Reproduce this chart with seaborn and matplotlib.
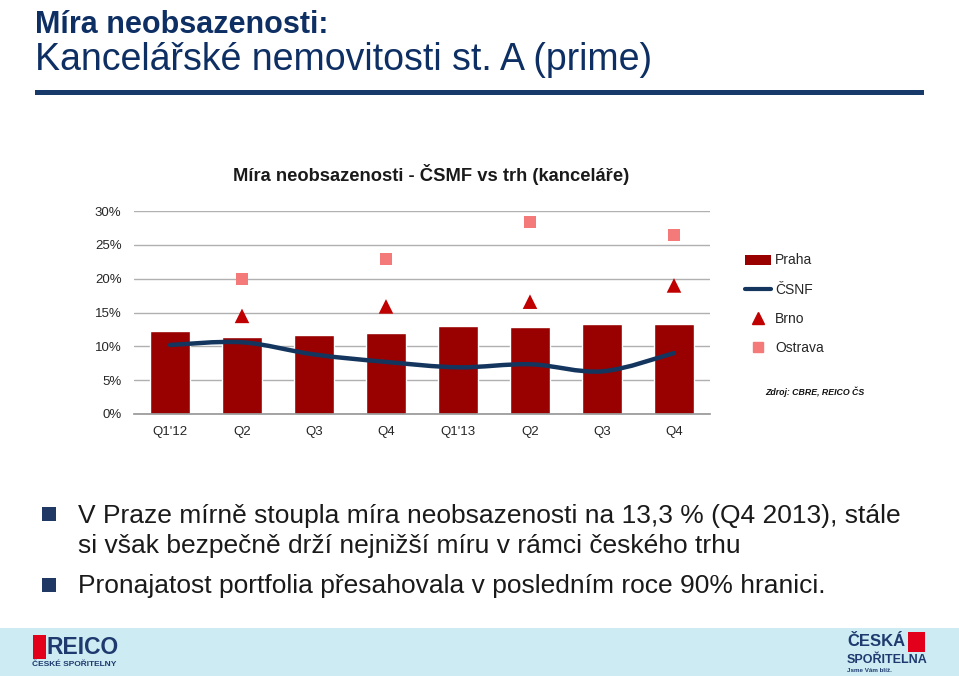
import numpy as np
import pandas as pd
import matplotlib
matplotlib.use("Agg")
import matplotlib.pyplot as plt
import seaborn as sns
from matplotlib.path import Path
from matplotlib.patches import PathPatch, Rectangle, Patch
from matplotlib.lines import Line2D

categories = ["Q1'12", "Q2", "Q3", "Q4", "Q1'13", "Q2", "Q3", "Q4"]
praha = [12.2, 11.45, 11.7, 11.9, 13.0, 12.8, 13.3, 13.3]
csnf = [10.2, 10.6, 8.8, 7.7, 6.9, 7.35, 6.3, 9.0]
brno = [np.nan, 14.5, np.nan, 15.9, np.nan, 16.6, np.nan, 19.0]
ostrava = [np.nan, 19.9, np.nan, 22.9, np.nan, 28.4, np.nan, 26.4]
yticks = [0, 5, 10, 15, 20, 25, 30]

sns.set_theme(style="white")
plt.rcParams["font.family"] = ["Liberation Sans", "DejaVu Sans"]

W, H = 959, 676
fig = plt.figure(figsize=(W / 100, H / 100), dpi=100)
fig.patch.set_facecolor("white")

def fx(px):
    return px / W

def fy(py):
    return 1 - py / H

NAVY = "#0e2f63"
# Title
fig.text(fx(35), fy(33), "Míra neobsazenosti:", weight="bold",
         fontsize=22, color=NAVY, va="baseline", ha="left")
fig.text(fx(35), fy(70), "Kancelářské nemovitosti st. A (prime)",
         fontsize=27, color=NAVY, va="baseline", ha="left")
fig.add_artist(Rectangle((fx(35), fy(95)), fx(924) - fx(35), 5 / H,
                         transform=fig.transFigure, color="#173a6b", lw=0))

# Chart
ax = fig.add_axes([fx(134), fy(414), fx(710) - fx(134), (414 - 211) / H])
df = pd.DataFrame({"cat": range(len(categories)), "praha": praha, "csnf": csnf,
                   "brno": brno, "ostrava": ostrava})
x = np.arange(len(categories))
ax.bar(x, df["praha"], width=0.56, color="#990000", zorder=2)

# smooth line (Bezier through data points)
pts = np.column_stack([x, df["csnf"].values])
ext = np.vstack([pts[0], pts, pts[-1]])
verts = [tuple(pts[0])]
codes = [Path.MOVETO]
for i in range(len(pts) - 1):
    p0, p1, p2, p3 = ext[i], ext[i + 1], ext[i + 2], ext[i + 3]
    c1 = p1 + (p2 - p0) / 6
    c2 = p2 - (p3 - p1) / 6
    verts += [tuple(c1), tuple(c2), tuple(p2)]
    codes += [Path.CURVE4] * 3
ax.add_patch(PathPatch(Path(verts, codes), fill=False, edgecolor="#14365e",
                       lw=3.2, zorder=3, capstyle="round"))

sns.scatterplot(data=df, x="cat", y="brno", marker="^", s=110, color="#c00000",
                edgecolor="none", ax=ax, zorder=4, legend=False)
sns.scatterplot(data=df, x="cat", y="ostrava", marker="s", s=75, color="#f47a7a",
                edgecolor="none", ax=ax, zorder=4, legend=False)

ax.set_xlim(-0.5, len(categories) - 0.5)
ax.set_ylim(0, 30)
ax.set_yticks(yticks)
ax.set_yticklabels([f"{v}%" for v in yticks], fontsize=9.5)
ax.set_xticks(x)
ax.set_xticklabels(categories, fontsize=9.5)
ax.set_xticks(np.arange(-0.5, len(categories)), minor=True)
ax.tick_params(axis="x", which="major", length=0, pad=9)
ax.tick_params(axis="x", which="minor", length=4, color="#999999", direction="out")
ax.tick_params(axis="y", length=0, pad=9)
ax.set_xlabel("")
ax.set_ylabel("")
ax.yaxis.grid(True, color="#b0b0b0", lw=1, zorder=0)
ax.set_axisbelow(True)
for s in ["top", "right", "left"]:
    ax.spines[s].set_visible(False)
ax.spines["bottom"].set_color("#999999")
ax.set_facecolor("white")

fig.text(fx(431), fy(175), "Míra neobsazenosti - ČSMF vs trh (kanceláře)",
         fontsize=13.2, weight="bold", color="#1a1a1a", ha="center", va="center")

handles = [Patch(facecolor="#990000", edgecolor="none"),
           Line2D([], [], color="#14365e", lw=3),
           Line2D([], [], marker="^", color="#c00000", ls="none", markersize=8),
           Line2D([], [], marker="s", color="#f47a7a", ls="none", markersize=7)]
leg = fig.legend(handles, ["Praha", "ČSNF", "Brno", "Ostrava"], loc="upper left",
                 bbox_to_anchor=(fx(732), fy(241)), frameon=False, fontsize=10,
                 labelspacing=1.1, handlelength=1.9, handletextpad=0.3)

fig.text(fx(765), fy(392), "Zdroj: CBRE, REICO ČS", fontsize=6.3,
         weight="bold", style="italic", color="#111111", ha="left", va="center")

# Bullets
for yb in [514, 585]:
    fig.add_artist(Rectangle((fx(42), fy(yb + 7)), 14 / W, 14 / H,
                             transform=fig.transFigure, color="#1f3864", lw=0))
btxt = dict(fontsize=19, color="#1a1a1a", ha="left", va="center")
fig.text(fx(78), fy(516), "V Praze mírně stoupla míra neobsazenosti na 13,3 % (Q4 2013), stále", **btxt)
fig.text(fx(78), fy(546), "si však bezpečně drží nejnižší míru v rámci českého trhu", **btxt)
fig.text(fx(78), fy(586), "Pronajatost portfolia přesahovala v posledním roce 90% hranici.", **btxt)

# Footer band
fig.add_artist(Rectangle((0, 0), 1, (676 - 628) / H, transform=fig.transFigure,
                         color="#cdebf3", lw=0))
# REICO logo
fig.add_artist(Rectangle((fx(33), fy(659)), 13 / W, 24 / H, transform=fig.transFigure,
                         color="#e2001a", lw=0))
fig.text(fx(47), fy(648), "REICO", fontsize=16.5, weight="bold", color="#1e3a6e",
         ha="left", va="center")
fig.text(fx(32), fy(665), "ČESKÉ SPOŘITELNY", fontsize=6, weight="bold",
         color="#1e3a6e", ha="left", va="center")
# Česká spořitelna logo
fig.text(fx(847), fy(642), "ČESKÁ", fontsize=12, weight="bold", color="#1e3a6e",
         ha="left", va="center")
fig.add_artist(Rectangle((fx(908), fy(652)), 17 / W, 20 / H, transform=fig.transFigure,
                         color="#e2001a", lw=0))
fig.text(fx(847), fy(660), "SPOŘITELNA", fontsize=9, weight="bold", color="#1e3a6e",
         ha="left", va="center")
fig.text(fx(847), fy(671), "Jsme Vám blíž.", fontsize=4.5, weight="bold",
         color="#1e3a6e", ha="left", va="center")

fig.savefig("out.png", dpi=100)
